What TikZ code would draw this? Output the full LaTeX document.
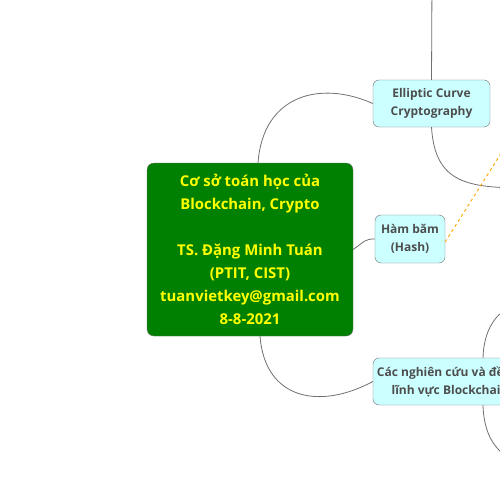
\documentclass[tikz,border=0pt]{standalone}
\usepackage{fontspec}
\setmainfont{Open Sans}
\usepackage{tikz}

\definecolor{rootgreen}{RGB}{0,128,0}
\definecolor{rootyellow}{RGB}{255,255,0}
\definecolor{topiccyan}{RGB}{204,255,255}
\definecolor{topictext}{RGB}{77,77,77}
\definecolor{edgegray}{RGB}{112,112,112}
\definecolor{relorange}{RGB}{255,165,0}

\begin{document}
\begin{tikzpicture}[x=1pt, y=-1pt,
    root/.style={draw=edgegray, fill=rootgreen, rounded corners=7pt, align=center,
      text=rootyellow, font=\fontsize{14.9}{23}\selectfont\bfseries, inner sep=0pt},
    topic/.style={draw=edgegray, fill=topiccyan, rounded corners=6pt, align=center,
      text=topictext, font=\fontsize{12}{18}\selectfont\bfseries, inner sep=0pt,
      minimum height=47pt},
    link/.style={draw=edgegray, line width=0.8pt},
    relation/.style={draw=relorange, line width=0.9pt, dash pattern=on 3pt off 3pt}]
    \useasboundingbox (0,0) rectangle (500,500);

    \node[root, minimum width=206pt, minimum height=173pt] (center) at (250,249.5)
      {Cơ sở toán học của\\Blockchain, Crypto\\[23pt]TS. Đặng Minh Tuán\\(PTIT, CIST)\\tuanvietkey@gmail.com\\8-8-2021};

    \node[topic, minimum width=117pt] (ecc) at (431.5,103.5) {Elliptic Curve\\Cryptography};
    \node[topic, minimum width=70pt, minimum height=48pt] (hash) at (410,239) {Hàm băm\\(Hash)};
    \node[topic, minimum width=154pt] (research) at (450,381.5) {Các nghiên cứu và đề tài\\lĩnh vực Blockchain};

    % branches leaving the picture
    \coordinate (eccup) at (432,-20);
    \coordinate (eccdown) at (530,188);
    \coordinate (resup) at (530,300);
    \coordinate (resdown) at (530,465);
    \coordinate (relend) at (522,120);

    \draw[link] ([xshift=8pt]center.north) .. controls (263,95) and (320,80) .. (ecc.west);
    \draw[link] (center.east) .. controls (365,241) and (365,239) .. (hash.west);
    \draw[link] ([xshift=10pt]center.south) .. controls (265,400) and (320,410) .. (research.west);

    \draw[link] (ecc.north) -- (eccup);
    \draw[link] (ecc.south) .. controls (435,185) and (470,188) .. (eccdown);
    \draw[link] ([xshift=33pt]research.north) .. controls (484,325) and (500,305) .. (resup);
    \draw[link] ([xshift=33pt]research.south) .. controls (484,440) and (500,460) .. (resdown);

    \draw[relation] ([yshift=-3pt]hash.east) -- (relend);
\end{tikzpicture}
\end{document}
